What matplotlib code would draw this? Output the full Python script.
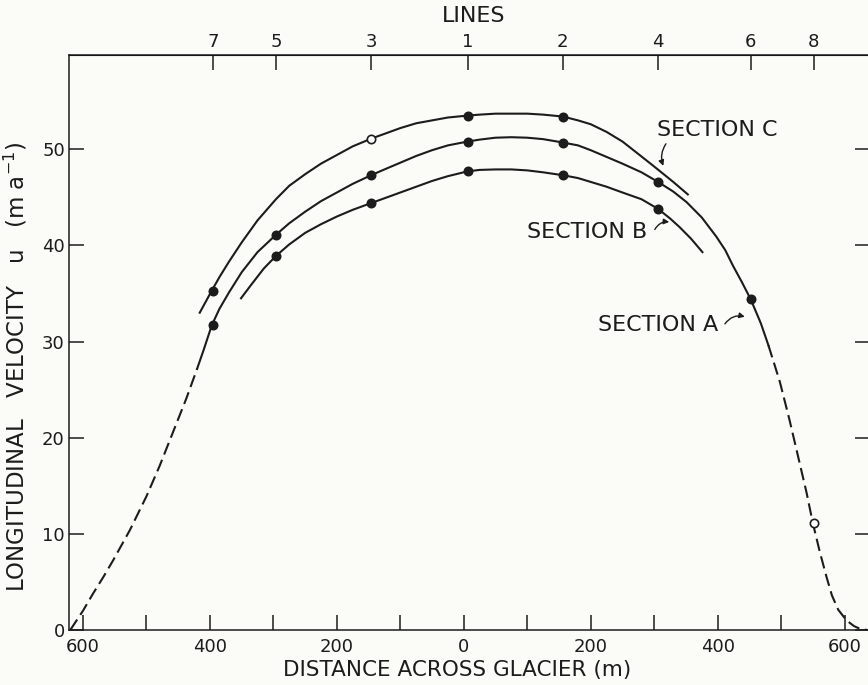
import matplotlib.pyplot as plt

# stake lines across the glacier (m, negative = left of the centre)
line_names = ['7', '5', '3', '1', '2', '4', '6', '8']
line_pos = [-395, -296, -146, 6, 156, 306, 452, 551]

# measured velocities (m a-1) at the stake lines
a_lines = ['7', '5', '3', '1', '2', '4', '6', '8']
a_vel = [31.7, 41.1, 47.3, 50.8, 50.7, 46.6, 34.4, 11.1]
a_open = ['8']
b_lines = ['5', '3', '1', '2', '4']
b_vel = [38.9, 44.4, 47.7, 47.3, 43.8]
c_lines = ['7', '3', '1', '2']
c_vel = [35.3, 51.1, 53.5, 53.4]
c_open = ['3']

# hand-drawn curves
a_left_x = [-620, -600, -584, -568, -552, -526, -500, -479, -458, -437, -420]
a_left_y = [0, 2.0, 3.8, 5.5, 7.3, 10.4, 13.9, 17.1, 20.6, 24.1, 27.2]
a_mid_x = [-420, -410, -397, -385, -370, -350, -325, -296, -275, -250, -225, -200, -175,
           -146, -125, -100, -75, -50, -25, 6, 25, 50, 75, 100, 125, 156, 180, 200, 225,
           250, 280, 306, 330, 351, 375, 398, 412, 424, 438, 452, 468, 480]
a_mid_y = [27.2, 29.1, 31.7, 33.4, 35.1, 37.2, 39.3, 41.1, 42.3, 43.5, 44.6, 45.5, 46.4,
           47.3, 47.9, 48.6, 49.3, 49.9, 50.4, 50.8, 51.0, 51.2, 51.25, 51.2, 51.05, 50.7, 50.4, 49.9, 49.2,
           48.5, 47.6, 46.6, 45.6, 44.5, 42.9, 40.9, 39.5, 37.9, 36.2, 34.4, 31.9, 29.6]
a_right_x = [480, 490, 498, 513, 529, 540, 550, 561, 572, 580, 590, 603, 615, 625, 636]
a_right_y = [29.6, 27.5, 25.8, 21.9, 17.4, 14.3, 11.1, 8.1, 5.4, 3.6, 2.1, 1.0, 0.4, 0.1, 0]
b_x = [-351, -335, -315, -296, -275, -250, -225, -200, -175, -146, -125, -100, -75, -50, -25,
       6, 25, 50, 75, 100, 125, 156, 180, 200, 225, 250, 280, 306, 325, 340, 358, 376]
b_y = [34.5, 35.9, 37.6, 38.9, 40.1, 41.3, 42.2, 43.0, 43.7, 44.4, 44.9, 45.5, 46.1, 46.7, 47.2,
       47.7, 47.85, 47.9, 47.9, 47.8, 47.6, 47.3, 47.0, 46.6, 46.1, 45.5, 44.8, 43.8, 42.8, 41.9, 40.7, 39.3]
c_x = [-416, -397, -385, -370, -350, -325, -296, -275, -250, -225, -200, -175, -146, -125,
       -100, -75, -50, -25, 6, 25, 50, 75, 100, 125, 156, 180, 200, 225, 250, 277, 300, 330, 353]
c_y = [33.0, 35.3, 36.7, 38.3, 40.3, 42.6, 44.8, 46.2, 47.4, 48.5, 49.4, 50.3, 51.1, 51.6,
       52.2, 52.7, 53.0, 53.3, 53.5, 53.6, 53.7, 53.7, 53.7, 53.6, 53.4, 53.0, 52.6, 51.8, 50.8, 49.4, 48.2, 46.6, 45.3]

ink = '#1c1c1c'
bg = '#fbfbf7'
pos = dict(zip(line_names, line_pos))

fig = plt.figure(figsize=(8.68, 6.85), dpi=100, facecolor=bg)
ax = fig.add_axes([0.0795, 0.0803, 0.9228, 0.8394], facecolor=bg)

lw = 1.5
dash = (0, (6, 2.7))
ax.plot(a_left_x, a_left_y, color=ink, lw=lw, linestyle=dash)
ax.plot(a_mid_x, a_mid_y, color=ink, lw=lw)
ax.plot(a_right_x, a_right_y, color=ink, lw=lw, linestyle=dash)
ax.plot(b_x, b_y, color=ink, lw=lw)
ax.plot(c_x, c_y, color=ink, lw=lw)


def dots(names, vel, open_names):
    for n, v in zip(names, vel):
        face = 'white' if n in open_names else ink
        ax.plot(pos[n], v, 'o', ms=6, mfc=face, mec=ink, mew=1.2, zorder=3)


dots(a_lines, a_vel, a_open)
dots(b_lines, b_vel, [])
dots(c_lines, c_vel, c_open)

ax.set_xlim(-622, 640)
ax.set_ylim(0, 59.8)

xt = list(range(-600, 601, 100))
ax.set_xticks(xt)
ax.set_xticklabels([str(abs(t)) if t % 200 == 0 else '' for t in xt])
ax.set_yticks(range(0, 51, 10))
ax.tick_params(axis='both', direction='in', length=11, width=1.1, color=ink,
               labelsize=13, labelcolor=ink)
ax.tick_params(axis='x', pad=6)
ax.tick_params(axis='y', pad=3, right=True)
for s in ax.spines.values():
    s.set_linewidth(1.1)
    s.set_color(ink)

top = ax.secondary_xaxis('top')
top.set_xticks(line_pos)
top.set_xticklabels(line_names)
top.tick_params(direction='in', length=11, width=1.1, color=ink, labelsize=13,
                labelcolor=ink, pad=3)

fig.text(474 / 868, 1 - 16 / 685, 'LINES', fontsize=16, color=ink,
         ha='center', va='center')
fig.text(457 / 868, 1 - 670 / 685, 'DISTANCE ACROSS GLACIER (m)', fontsize=15.5,
         color=ink, ha='center', va='center')
fig.text(16 / 868, 1 - 367 / 685, r'LONGITUDINAL   VELOCITY   u   (m a$^{-1}$)',
         rotation=90, ha='center', va='center', fontsize=16.5, color=ink)

# section labels with their little arrows
arrow = dict(arrowstyle='-|>', color=ink, lw=1, mutation_scale=8)
ax.text(305, 52.0, 'SECTION C', fontsize=16, color=ink, ha='left', va='center')
ax.annotate('', xy=(316, 48.0), xytext=(321, 50.8),
            arrowprops=dict(arrow, connectionstyle='arc3,rad=0.3'))
ax.text(99, 41.4, 'SECTION B', fontsize=16, color=ink, ha='left', va='center')
ax.annotate('', xy=(328, 42.4), xytext=(299, 41.4),
            arrowprops=dict(arrow, connectionstyle='arc3,rad=-0.4'))
ax.text(211, 31.7, 'SECTION A', fontsize=16, color=ink, ha='left', va='center')
ax.annotate('', xy=(447, 32.5), xytext=(409, 31.6),
            arrowprops=dict(arrow, connectionstyle='arc3,rad=-0.4'))

fig.savefig('out.png', dpi=100, facecolor=bg)
